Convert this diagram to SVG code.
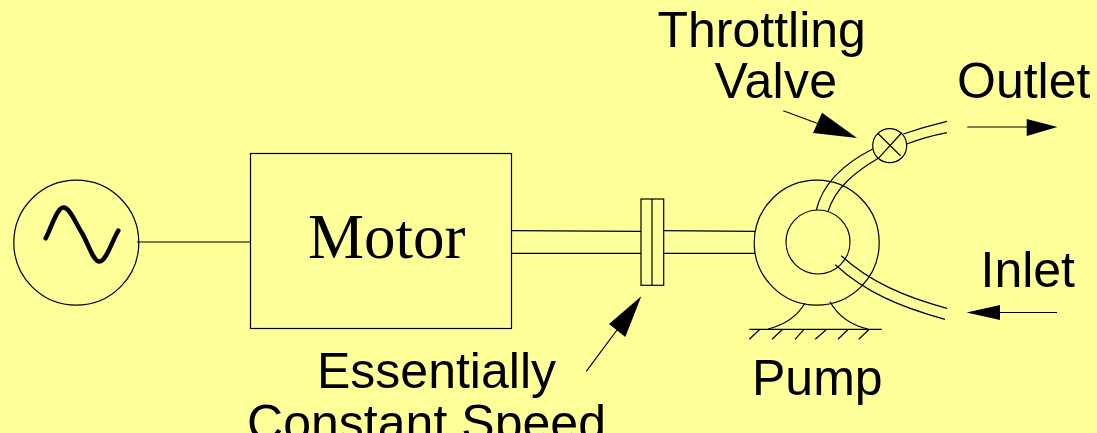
<svg xmlns="http://www.w3.org/2000/svg" width="1097" height="433" viewBox="0 0 1097 433">
<style>
.l{fill:none;stroke:#000;stroke-width:1.2}
.h{fill:#000;stroke:none}
.s{font-family:"Liberation Sans",Arial,sans-serif;font-size:50px;fill:#000}
</style>
<rect width="1097" height="433" fill="#ffff99"/>
<g id="source">
<circle class="l" cx="76.3" cy="242.7" r="62.5"/>
<path d="M45.700 238.300C52 226 57 207.500 63.500 207.500C70 207.500 76 224 82 233C88 243 93 261.500 99.500 261.500C106 261.500 112 241 118.300 230.700" fill="none" stroke="#000" stroke-width="4.500" stroke-linecap="round"/>
</g>
<g id="motor">
<rect class="l" x="250.500" y="153.500" width="261" height="175"/>
<text x="308" y="258" style="font-family:'Liberation Serif','Times New Roman',serif;font-size:63px;fill:#000">Motor</text>
</g>
<g id="coupling">
<rect class="l" x="641" y="199" width="22.700" height="86.300"/>
<line class="l" x1="652" y1="199" x2="652" y2="285.300"/>
</g>
<g id="pump">
<circle class="l" cx="816.700" cy="242.700" r="62.500"/>
<circle class="l" cx="818" cy="242" r="32"/>
<path class="l" d="M805 303C797 317 784 325 768 329M830 301.700C838 316 851 325 868 329"/>
<path class="l" d="M749.300 329.300H881.700M760 329.300L749.300 339.300M782.700 329.300L772 339.300M804 329.300L795 339.300M826.700 329.300L815.300 339.300M848.300 329.300L838 339.300M869.300 329.300L858.700 339.300"/>
<text class="s" x="752" y="395">Pump</text>
</g>
<g id="valve">
<circle class="l" cx="889.700" cy="145.700" r="17"/>
<path class="l" d="M877.700 133.300L900.500 155.700M902 132.500L878.300 158.300"/>
<text class="s" x="657.500" y="47">Throttling</text>
<text class="s" x="714.500" y="98" textLength="122.500">Valve</text>
</g>
<g id="labels">
<text class="s" x="957" y="98">Outlet</text>
<text class="s" x="980.500" y="287">Inlet</text>
<text class="s" x="317" y="388">Essentially</text>
<text class="s" x="247" y="440" textLength="359">Constant Speed</text>
</g>
<g id="connectors">
<line class="l" x1="137" y1="242" x2="250" y2="242"/>
<path class="l" d="M511.700 230.700L641 231.300M511.700 253.300H641M663.700 230.700L755 231.300M663.700 253.300H755"/>
<path class="l" d="M816.300 210C823 182 845 163 872.700 149M828 211.700C835 188 855 172 878.300 158.300"/>
<path class="l" d="M903.300 134Q925 126.500 947 121.300M906 144.300Q925 137 947 132.700"/>
<path class="l" d="M841.300 255.700C870 282 905 297 947 308.300M835.300 264.700C865 292 900 307 945 319.300"/>
<line class="l" x1="783.300" y1="110.700" x2="817" y2="123.300"/>
<polygon class="h" points="822,112.700 857,138 813,133"/>
<line class="l" x1="586.300" y1="371.300" x2="617" y2="330"/>
<polygon class="h" points="641.300,296.300 609,324 625.300,337"/>
<line class="l" x1="967.300" y1="127" x2="1030" y2="127"/>
<polygon class="h" points="1057.500,127 1026.700,119 1026.700,136"/>
<line class="l" x1="1057" y1="312.500" x2="995" y2="312.500"/>
<polygon class="h" points="966.500,312.500 1000,305 1000,320"/>
</g>
</svg>
